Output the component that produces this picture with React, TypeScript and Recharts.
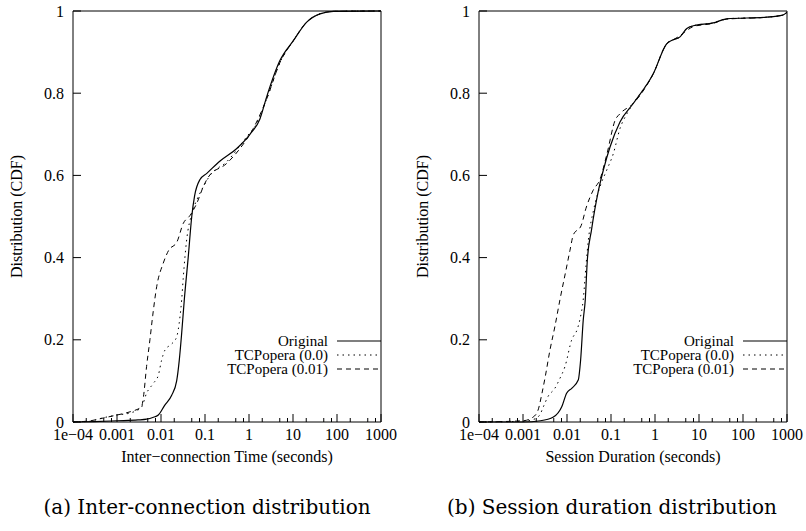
import { LineChart, Line, XAxis, YAxis, Legend } from "recharts";

const xMajorTicks = [0.0001, 0.001, 0.01, 0.1, 1, 10, 100, 1000];
const xMajorLabels = ["1e\u221204", "0.001", "0.01", "0.1", "1", "10", "100", "1000"];
const xMinorTicks = [
  0.0002, 0.0005, 0.00075, 0.002, 0.005, 0.0075, 0.02, 0.05, 0.075,
  0.2, 0.5, 0.75, 2, 5, 7.5, 20, 50, 75, 200, 500, 750,
];
const yTicks = [0, 0.2, 0.4, 0.6, 0.8, 1];
const yLabels = ["0", "0.2", "0.4", "0.6", "0.8", "1"];
const seriesNames = ["Original", "TCPopera (0.0)", "TCPopera (0.01)"];

// (a) inter-connection time CDF
const interOriginal = [
  { x: 0.0001, y: 0 }, { x: 0.0003, y: 0.001 }, { x: 0.001, y: 0.003 }, { x: 0.003, y: 0.005 },
  { x: 0.0047, y: 0.007 }, { x: 0.0065, y: 0.011 }, { x: 0.0087, y: 0.017 }, { x: 0.012, y: 0.04 },
  { x: 0.0175, y: 0.065 }, { x: 0.0227, y: 0.1 }, { x: 0.026, y: 0.15 }, { x: 0.0295, y: 0.216 },
  { x: 0.034, y: 0.3 }, { x: 0.0415, y: 0.4 }, { x: 0.05, y: 0.5 }, { x: 0.058, y: 0.55 },
  { x: 0.077, y: 0.59 }, { x: 0.11, y: 0.605 }, { x: 0.22, y: 0.635 }, { x: 0.52, y: 0.665 },
  { x: 1.05, y: 0.7 }, { x: 1.78, y: 0.738 }, { x: 2.5, y: 0.79 }, { x: 5.07, y: 0.88 },
  { x: 10.2, y: 0.928 }, { x: 20.5, y: 0.973 }, { x: 41, y: 0.993 }, { x: 83, y: 0.999 },
  { x: 1000, y: 1 },
];
const interTcp00 = [
  { x: 0.0001, y: 0 }, { x: 0.00025, y: 0.002 }, { x: 0.0004, y: 0.008 }, { x: 0.001, y: 0.017 },
  { x: 0.002, y: 0.022 }, { x: 0.0036, y: 0.036 }, { x: 0.0047, y: 0.07 }, { x: 0.0067, y: 0.094 },
  { x: 0.0087, y: 0.114 }, { x: 0.0103, y: 0.15 }, { x: 0.0123, y: 0.175 }, { x: 0.0175, y: 0.19 },
  { x: 0.0227, y: 0.207 }, { x: 0.027, y: 0.256 }, { x: 0.0295, y: 0.297 }, { x: 0.032, y: 0.35 },
  { x: 0.038, y: 0.44 }, { x: 0.05, y: 0.507 }, { x: 0.065, y: 0.54 }, { x: 0.091, y: 0.572 },
  { x: 0.13, y: 0.6 }, { x: 0.31, y: 0.633 }, { x: 0.885, y: 0.694 }, { x: 1.5, y: 0.726 },
  { x: 2.5, y: 0.785 }, { x: 5.07, y: 0.875 }, { x: 10.2, y: 0.928 }, { x: 20.5, y: 0.973 },
  { x: 41, y: 0.993 }, { x: 83, y: 0.999 }, { x: 1000, y: 1 },
];
const interTcp01 = [
  { x: 0.0001, y: 0 }, { x: 0.00025, y: 0.003 }, { x: 0.0005, y: 0.01 }, { x: 0.001, y: 0.017 },
  { x: 0.002, y: 0.025 }, { x: 0.0036, y: 0.037 }, { x: 0.004, y: 0.062 }, { x: 0.0047, y: 0.135 },
  { x: 0.0056, y: 0.2 }, { x: 0.0065, y: 0.26 }, { x: 0.008, y: 0.33 }, { x: 0.0112, y: 0.386 },
  { x: 0.015, y: 0.418 }, { x: 0.023, y: 0.438 }, { x: 0.032, y: 0.483 }, { x: 0.046, y: 0.503 },
  { x: 0.065, y: 0.532 }, { x: 0.091, y: 0.572 }, { x: 0.119, y: 0.596 }, { x: 0.31, y: 0.629 },
  { x: 0.62, y: 0.665 }, { x: 1.25, y: 0.714 }, { x: 2.5, y: 0.785 }, { x: 5.07, y: 0.875 },
  { x: 10.2, y: 0.928 }, { x: 20.5, y: 0.973 }, { x: 41, y: 0.993 }, { x: 83, y: 0.999 },
  { x: 1000, y: 1 },
];

// (b) session duration CDF
const sessOriginal = [
  { x: 0.0001, y: 0 }, { x: 0.001, y: 0 }, { x: 0.0025, y: 0.003 }, { x: 0.0049, y: 0.012 },
  { x: 0.0076, y: 0.037 }, { x: 0.0098, y: 0.07 }, { x: 0.0128, y: 0.082 }, { x: 0.018, y: 0.102 },
  { x: 0.0204, y: 0.151 }, { x: 0.0234, y: 0.248 }, { x: 0.026, y: 0.297 }, { x: 0.029, y: 0.394 },
  { x: 0.036, y: 0.467 }, { x: 0.052, y: 0.564 }, { x: 0.067, y: 0.613 }, { x: 0.095, y: 0.669 },
  { x: 0.16, y: 0.73 }, { x: 0.32, y: 0.775 }, { x: 0.92, y: 0.848 }, { x: 1.84, y: 0.92 },
  { x: 2.6, y: 0.93 }, { x: 3.7, y: 0.937 }, { x: 5.2, y: 0.957 }, { x: 7.4, y: 0.964 },
  { x: 21, y: 0.971 }, { x: 42, y: 0.981 }, { x: 350, y: 0.985 }, { x: 800, y: 0.99 },
  { x: 1000, y: 0.997 },
];
const sessTcp00 = [
  { x: 0.0001, y: 0 }, { x: 0.001, y: 0.002 }, { x: 0.0017, y: 0.006 }, { x: 0.0024, y: 0.017 },
  { x: 0.0029, y: 0.037 }, { x: 0.0037, y: 0.062 }, { x: 0.0053, y: 0.082 }, { x: 0.0069, y: 0.106 },
  { x: 0.009, y: 0.135 }, { x: 0.0128, y: 0.2 }, { x: 0.017, y: 0.225 }, { x: 0.0197, y: 0.25 },
  { x: 0.0235, y: 0.3 }, { x: 0.027, y: 0.38 }, { x: 0.0306, y: 0.443 }, { x: 0.04, y: 0.515 },
  { x: 0.056, y: 0.572 }, { x: 0.08, y: 0.613 }, { x: 0.113, y: 0.653 }, { x: 0.16, y: 0.714 },
  { x: 0.23, y: 0.75 }, { x: 0.32, y: 0.775 }, { x: 0.92, y: 0.848 }, { x: 1.84, y: 0.92 },
  { x: 2.6, y: 0.93 }, { x: 3.7, y: 0.937 }, { x: 5.2, y: 0.957 }, { x: 7.4, y: 0.964 },
  { x: 21, y: 0.971 }, { x: 42, y: 0.981 }, { x: 350, y: 0.985 }, { x: 800, y: 0.99 },
  { x: 1000, y: 0.997 },
];
const sessTcp01 = [
  { x: 0.0001, y: 0 }, { x: 0.001, y: 0.003 }, { x: 0.0017, y: 0.012 }, { x: 0.0022, y: 0.029 },
  { x: 0.0027, y: 0.07 }, { x: 0.0032, y: 0.11 }, { x: 0.0041, y: 0.175 }, { x: 0.0053, y: 0.232 },
  { x: 0.0069, y: 0.297 }, { x: 0.0095, y: 0.37 }, { x: 0.0117, y: 0.418 }, { x: 0.0139, y: 0.455 },
  { x: 0.021, y: 0.478 }, { x: 0.027, y: 0.52 }, { x: 0.0394, y: 0.564 }, { x: 0.056, y: 0.59 },
  { x: 0.08, y: 0.65 }, { x: 0.125, y: 0.735 }, { x: 0.16, y: 0.75 }, { x: 0.32, y: 0.775 },
  { x: 0.92, y: 0.848 }, { x: 1.84, y: 0.92 }, { x: 2.6, y: 0.93 }, { x: 3.7, y: 0.94 },
  { x: 5.2, y: 0.952 }, { x: 7.4, y: 0.962 }, { x: 21, y: 0.97 }, { x: 42, y: 0.98 },
  { x: 350, y: 0.985 }, { x: 800, y: 0.99 }, { x: 1000, y: 0.997 },
];

const serif = '"Liberation Serif", "Times New Roman", serif';
const textStyle = { fontFamily: serif, fontSize: 16, fill: "#000" };
const lineDash = ["", "1.5 4", "5 4"];
const lineWidth = [1.2, 1, 1];
const xDomain = [0.0001, 1000];
const xAllTicks = [...xMajorTicks, ...xMinorTicks].sort((a, b) => a - b);

const fmtX = (v: number) => xMajorLabels[xMajorTicks.indexOf(v)] ?? String(v);
const fmtY = (v: number) => yLabels[yTicks.indexOf(v)] ?? String(v);

// gnuplot-style inward ticks
function BottomTick({ x, y, payload }: any) {
  const major = xMajorTicks.includes(payload.value);
  return (
    <g>
      <line x1={x} x2={x} y1={y} y2={y - (major ? 8 : 4)} stroke="#000" />
      {major && (
        <text x={x} y={y + 7} dy="0.71em" textAnchor="middle" style={textStyle}>
          {fmtX(payload.value)}
        </text>
      )}
    </g>
  );
}

function TopTick({ x, y, payload }: any) {
  const major = xMajorTicks.includes(payload.value);
  return <line x1={x} x2={x} y1={y} y2={y + (major ? 8 : 4)} stroke="#000" />;
}

function LeftTick({ x, y, payload }: any) {
  return (
    <g>
      <line x1={x} x2={x + 8} y1={y} y2={y} stroke="#000" />
      <text x={x - 9} y={y} dy="0.35em" textAnchor="end" style={textStyle}>
        {fmtY(payload.value)}
      </text>
    </g>
  );
}

function RightTick({ x, y }: any) {
  return <line x1={x} x2={x - 8} y1={y} y2={y} stroke="#000" />;
}

function YTitle(props: any) {
  const { x, y, width, height } = props.viewBox;
  const cx = x + width - 51;
  const cy = y + height / 2;
  return (
    <text x={cx} y={cy} transform={`rotate(-90 ${cx} ${cy})`} textAnchor="middle" style={textStyle}>
      {props.value}
    </text>
  );
}

function XTitle(props: any) {
  const { x, y, width } = props.viewBox;
  return (
    <text x={x + width / 2} y={y + 40} textAnchor="middle" style={textStyle}>
      {props.value}
    </text>
  );
}

function CdfLegend() {
  return (
    <svg width={260} height={46} style={{ display: "block" }}>
      {seriesNames.map((name, i) => (
        <g key={name}>
          <text x={207} y={8 + i * 14} dy="0.33em" textAnchor="end" style={{ ...textStyle, fontSize: 15 }}>
            {name}
          </text>
          <line x1={216} x2={260} y1={8 + i * 14} y2={8 + i * 14} stroke="#000"
            strokeWidth={lineWidth[i]} strokeDasharray={lineDash[i]} />
        </g>
      ))}
    </svg>
  );
}

function CdfChart({ width, left, xTitle, series }: { width: number; left: number; xTitle: string; series: { x: number; y: number }[][] }) {
  const plotRight = width - 19;
  return (
    <LineChart width={width} height={480} margin={{ top: 10, right: 18, bottom: 0, left: 0 }}>
      <XAxis xAxisId="x" dataKey="x" type="number" scale="log" domain={xDomain} allowDataOverflow
        ticks={xAllTicks} interval={0} height={58} axisLine={{ stroke: "#000" }}
        tickLine={false} tickSize={0} tickMargin={0} tick={BottomTick}
        label={{ value: xTitle, content: XTitle }} />
      <XAxis xAxisId="top" orientation="top" type="number" scale="log" domain={xDomain} allowDataOverflow
        ticks={xAllTicks} interval={0} height={1} axisLine={{ stroke: "#000" }}
        tickLine={false} tickSize={0} tickMargin={0} tick={TopTick} />
      <YAxis yAxisId="y" type="number" domain={[0, 1]} ticks={yTicks} interval={0} width={left}
        axisLine={{ stroke: "#000" }} tickLine={false} tickSize={0} tickMargin={0} tick={LeftTick}
        label={{ value: "Distribution (CDF)", content: YTitle }} />
      <YAxis yAxisId="r" orientation="right" type="number" domain={[0, 1]} ticks={yTicks} interval={0}
        width={1} axisLine={{ stroke: "#000" }} tickLine={false} tickSize={0} tickMargin={0} tick={RightTick} />
      <Legend layout="horizontal" verticalAlign="middle" content={() => <CdfLegend />}
        wrapperStyle={{ left: plotRight - 260, top: 332.5, width: 260, height: 46 }} />
      {series.map((data, i) => (
        <Line key={seriesNames[i]} name={seriesNames[i]} data={data} dataKey="y" xAxisId="x" yAxisId="y"
          type="monotone" stroke="#000" strokeWidth={lineWidth[i]} strokeDasharray={lineDash[i]}
          dot={false} activeDot={false} isAnimationActive={false} />
      ))}
    </LineChart>
  );
}

export default function App() {
  return (
    <div style={{ position: "absolute", left: 0, top: 0, width: 806, height: 531, background: "#fff" }}>
      <div style={{ position: "absolute", left: 0, top: 0 }}>
        <CdfChart width={400} left={73} xTitle={"Inter\u2212connection Time (seconds)"}
          series={[interOriginal, interTcp00, interTcp01]} />
      </div>
      <div style={{ position: "absolute", left: 400, top: 0 }}>
        <CdfChart width={406} left={79} xTitle="Session Duration (seconds)"
          series={[sessOriginal, sessTcp00, sessTcp01]} />
      </div>
      <svg width={806} height={531} style={{ position: "absolute", left: 0, top: 0, pointerEvents: "none" }}>
        <text x={207} y={514} textAnchor="middle" style={{ fontFamily: '"DejaVu Serif", serif', fontSize: 20, fill: "#000" }}>
          (a) Inter-connection distribution
        </text>
        <text x={612} y={514} textAnchor="middle" style={{ fontFamily: '"DejaVu Serif", serif', fontSize: 20, fill: "#000" }}>
          (b) Session duration distribution
        </text>
      </svg>
    </div>
  );
}
